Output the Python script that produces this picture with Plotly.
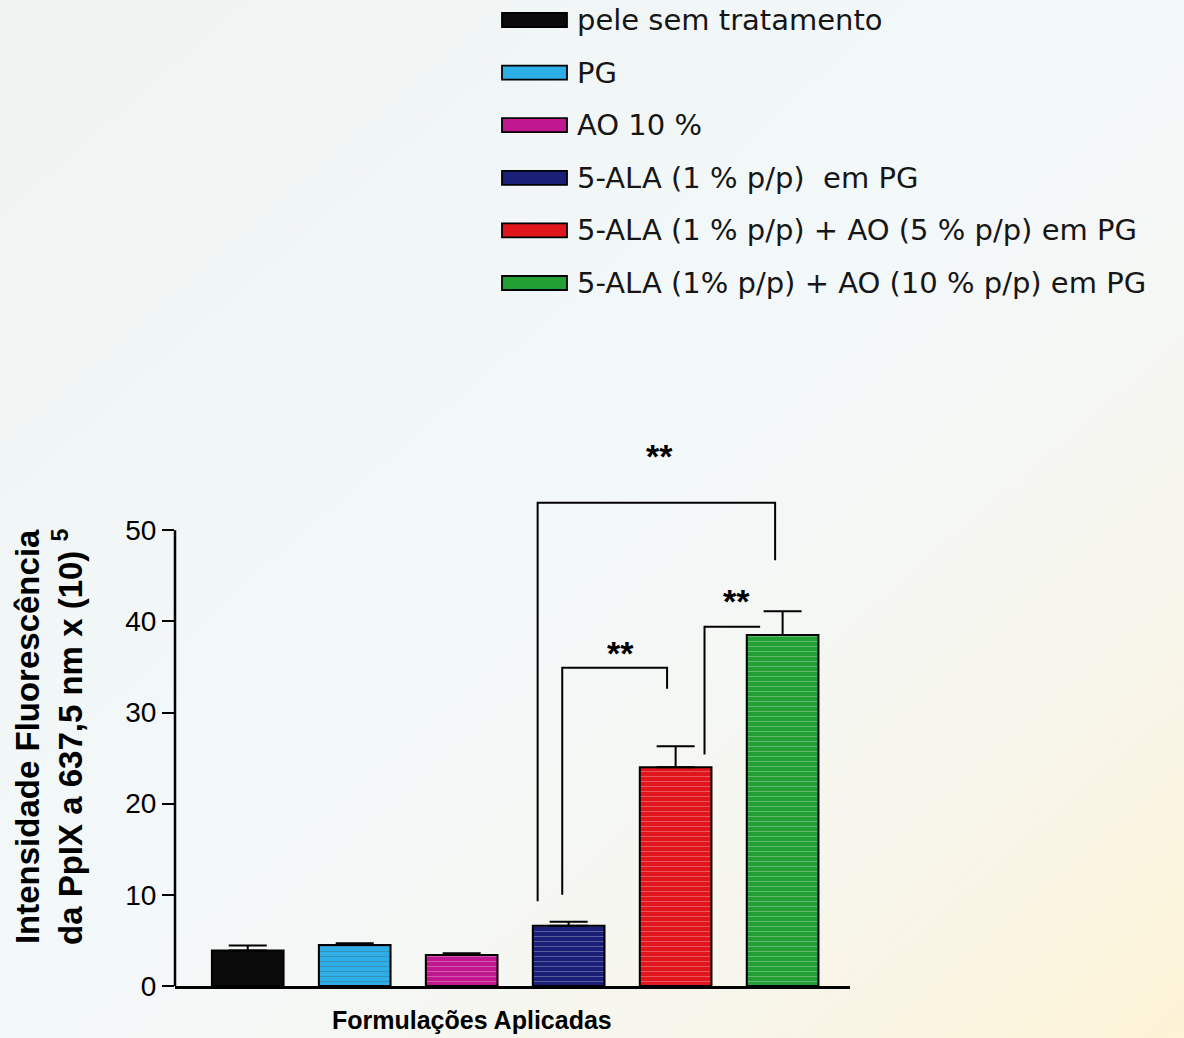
import base64
import plotly.graph_objects as go

# ---------------- data ----------------
categories = [
    "pele sem tratamento",
    "PG",
    "AO 10 %",
    "5-ALA (1 % p/p)\u00a0 em PG",
    "5-ALA (1 % p/p) + AO (5 % p/p) em PG",
    "5-ALA (1% p/p) + AO (10 % p/p) em PG",
]
values = [3.9, 4.5, 3.4, 6.6, 24.0, 38.5]
errors = [0.55, 0.2, 0.2, 0.45, 2.3, 2.6]
bar_colors = ["#0b0b0b", "#2eaee6", "#c0168e", "#1b1f78", "#e0161c", "#22a034"]
stripe_colors = ["#0b0b0b", "#7fd0f2", "#d85cae", "#34398f", "#ee4a4a", "#15802a"]
stripe_shapes = ["", "-", "-", "-", "-", "-"]
y_ticks = [0, 10, 20, 30, 40, 50]

# significance brackets (data units)
bracket_left_x = [2.71, 2.94, 4.27]
bracket_right_x = [4.93, 3.92, 4.79]
bracket_top_y = [53.0, 34.9, 39.4]
bracket_left_bottom = [9.3, 10.0, 25.4]
bracket_right_bottom = [46.7, 32.6, 39.4]
star_x = [3.85, 3.48, 4.57]
star_y = [58.4, 36.8, 42.4]
star_text = ["**", "**", "**"]

x_title = "Formulações Aplicadas"
y_title = "Intensidade Fluorescência<br>da PpIX a 637,5 nm x (10) <sup>5</sup>"

# ---------------- layout geometry ----------------
W, H = 1184, 1038
ML, MR, MT, MB = 175, 334, 439, 52
PW, PH = W - ML - MR, H - MT - MB


def px_x(px):
    return (px - ML) / PW


def px_y(py):
    return (H - MB - py) / PH


fig = go.Figure()
fig.add_trace(go.Bar(
    x=list(range(len(values))),
    y=values,
    width=0.67,
    marker=dict(
        color=bar_colors,
        line=dict(color="black", width=2),
        pattern=dict(shape=stripe_shapes, fillmode="overlay", fgcolor=stripe_colors,
                     size=5, solidity=0.2, fgopacity=0.28),
    ),
    error_y=dict(type="data", array=errors, arrayminus=[0] * len(errors), symmetric=False,
                 color="black", thickness=2, width=19),
    showlegend=False,
    hoverinfo="skip",
))

shapes = []
# y axis line only from 0 to 50
shapes.append(dict(type="line", xref="paper", yref="y", x0=0, x1=0, y0=0, y1=y_ticks[-1],
                   line=dict(color="black", width=2.5)))
# brackets
for xl, xr, yt, ylb, yrb in zip(bracket_left_x, bracket_right_x, bracket_top_y,
                                bracket_left_bottom, bracket_right_bottom):
    shapes.append(dict(type="path", xref="x", yref="y",
                       path=f"M {xl},{ylb} L {xl},{yt} L {xr},{yt} L {xr},{yrb}",
                       line=dict(color="black", width=2)))

annotations = []
for sx, sy, st in zip(star_x, star_y, star_text):
    annotations.append(dict(x=sx, y=sy, xref="x", yref="y", text=f"<b>{st}</b>", showarrow=False,
                            font=dict(family="Liberation Sans, Arial", size=34, color="black"),
                            xanchor="center", yanchor="middle", yshift=-2))

# manual legend
row0, row_gap = 20, 52.6
for i, (name, col) in enumerate(zip(categories, bar_colors)):
    cy = row0 + i * row_gap
    shapes.append(dict(type="rect", xref="paper", yref="paper",
                       x0=px_x(502), x1=px_x(567), y0=px_y(cy + 7), y1=px_y(cy - 7),
                       fillcolor=col, line=dict(color="black", width=1.8)))
    annotations.append(dict(x=px_x(575), y=px_y(cy), xref="paper", yref="paper", text=name,
                            showarrow=False, xanchor="left", yanchor="middle",
                            font=dict(family="DejaVu Sans", size=29, color="#161616")))

# axis titles
annotations.append(dict(x=px_x(472), y=px_y(1020), xref="paper", yref="paper",
                        text=f"<b>{x_title}</b>", showarrow=False, xanchor="center", yanchor="middle",
                        font=dict(family="Liberation Sans, Arial", size=25, color="black")))
annotations.append(dict(x=px_x(49), y=px_y(737), xref="paper", yref="paper",
                        text=f"<b>{y_title}</b>", showarrow=False, textangle=-90,
                        xanchor="center", yanchor="middle",
                        font=dict(family="Liberation Sans, Arial", size=33, color="black")))

# scanned-paper background
svg = ('<svg xmlns="http://www.w3.org/2000/svg" width="1184" height="1038" preserveAspectRatio="none">'
       '<defs><linearGradient id="g" x1="0" y1="0" x2="1" y2="1">'
       '<stop offset="0" stop-color="#eff3f1"/><stop offset="0.5" stop-color="#f3f8fa"/>'
       '<stop offset="0.78" stop-color="#f7f6ec"/><stop offset="1" stop-color="#fdf3d6"/>'
       '</linearGradient></defs><rect width="1184" height="1038" fill="url(#g)"/></svg>')
bg_uri = "data:image/svg+xml;base64," + base64.b64encode(svg.encode()).decode()

fig.update_layout(
    width=W, height=H,
    margin=dict(l=ML, r=MR, t=MT, b=MB, pad=0),
    paper_bgcolor="#f3f7f6",
    plot_bgcolor="rgba(0,0,0,0)",
    showlegend=False,
    hovermode=False,
    shapes=shapes,
    annotations=annotations,
    images=[dict(source=bg_uri, xref="paper", yref="paper", x=px_x(0), y=px_y(0),
                 sizex=W / PW, sizey=H / PH, sizing="stretch", xanchor="left", yanchor="top",
                 layer="below")],
    xaxis=dict(range=[-0.68, 5.63], showticklabels=False, ticks="", showgrid=False, zeroline=False,
               showline=True, linecolor="black", linewidth=2.5, fixedrange=True),
    yaxis=dict(range=[0, 60], tickvals=y_ticks, ticktext=[str(t) for t in y_ticks],
               ticks="outside", ticklen=12, tickwidth=2, tickcolor="black",
               showgrid=False, zeroline=False, showline=False, fixedrange=True,
               tickfont=dict(family="Liberation Sans, Arial", size=28, color="black")),
)

fig.write_html("out.html", config={"displayModeBar": False, "staticPlot": True},
               post_script="document.body.style.margin='0';document.body.style.background='#f3f7f6';")
